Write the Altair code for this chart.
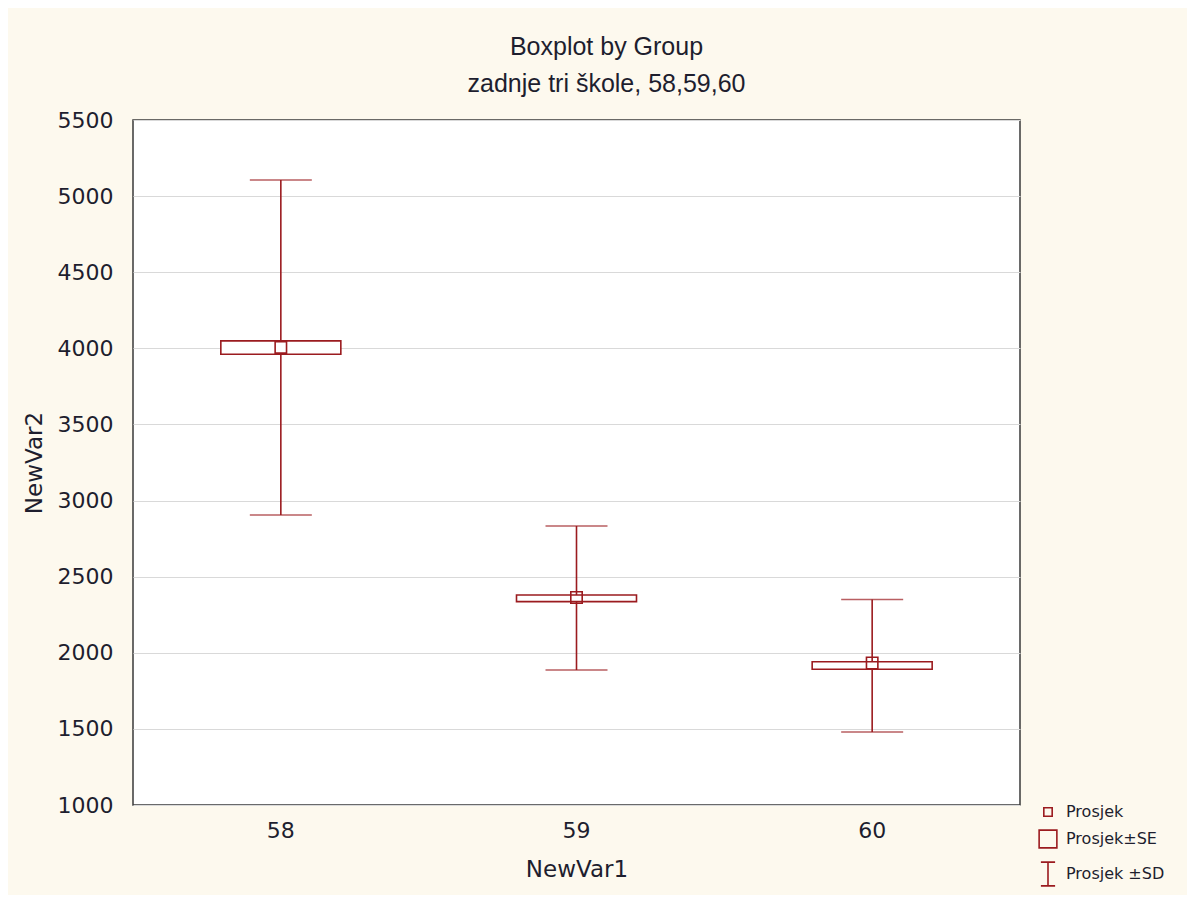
import altair as alt
import pandas as pd

groups = ["58", "59", "60"]
means = [4006, 2363, 1933]
se_low = [3961, 2336, 1892]
se_high = [4049, 2380, 1941]
sd_low = [2905, 1887, 1480]
sd_high = [5106, 2833, 2350]
legend_labels = ["Prosjek", "Prosjek±SE", "Prosjek ±SD"]
y_ticks = [1000, 1500, 2000, 2500, 3000, 3500, 4000, 4500, 5000, 5500]

df = pd.DataFrame({
    "group": groups, "mean": means, "se_low": se_low, "se_high": se_high,
    "sd_low": sd_low, "sd_high": sd_high,
})
leg_df = pd.DataFrame({"item": legend_labels})

RED = "#9b1b1f"
TXT = "#1e1e2e"
FONT = "DejaVu Sans"

x_enc = alt.X("group:N", sort=groups,
              scale=alt.Scale(paddingInner=0, paddingOuter=0),
              axis=alt.Axis(title="NewVar1", labelAngle=0, ticks=False, domain=False,
                            labelPadding=15, titlePadding=17, grid=False,
                            labelFont=FONT, labelFontSize=22, labelColor=TXT,
                            titleFont=FONT, titleFontSize=23, titleFontWeight="normal",
                            titleColor=TXT))
y_scale = alt.Scale(domain=[1000, 5500], nice=False, zero=False)
y_axis = alt.Axis(title="NewVar2", values=y_ticks, format="d", ticks=False, domain=False,
                  grid=True, gridColor="#d9d9d9", gridWidth=1.2, labelPadding=20,
                  titlePadding=11,
                  labelFont=FONT, labelFontSize=22, labelColor=TXT,
                  titleFont=FONT, titleFontSize=23, titleFontWeight="normal", titleColor=TXT)

base = alt.Chart(df)

whisker = base.mark_rule(color=RED, strokeWidth=1.6).encode(
    x=x_enc, y=alt.Y("sd_low:Q", scale=y_scale, axis=y_axis), y2="sd_high:Q")
cap_low = base.mark_tick(color=RED, size=62, thickness=1.6).encode(
    x=x_enc, y=alt.Y("sd_low:Q", scale=y_scale))
cap_high = base.mark_tick(color=RED, size=62, thickness=1.6).encode(
    x=x_enc, y=alt.Y("sd_high:Q", scale=y_scale))
box = base.mark_bar(fill="white", stroke=RED, strokeWidth=1.6, size=120).encode(
    x=x_enc, y=alt.Y("se_low:Q", scale=y_scale), y2="se_high:Q")
mean_pt = base.mark_point(shape="square", size=130, filled=False, color=RED,
                          strokeWidth=1.6, opacity=1).encode(
    x=x_enc, y=alt.Y("mean:Q", scale=y_scale))

leg = alt.Legend(title=None, orient="none", legendX=902, legendY=684,
                 labelFont=FONT, labelFontSize=16, labelColor=TXT,
                 symbolStrokeColor=RED, symbolStrokeWidth=1.6, symbolFillColor="transparent",
                 rowPadding=6, labelOffset=5)
legend_layer = alt.Chart(leg_df).mark_point(filled=False, color=RED, strokeWidth=1.6,
                                            clip=True, opacity=1).encode(
    x=alt.value(10),
    y=alt.datum(0),
    shape=alt.Shape("item:N", sort=legend_labels,
                    scale=alt.Scale(domain=legend_labels,
                                    range=["square", "square",
                                           "M-0.6,-1H0.6M0,-1V1M-0.6,1H0.6"]),
                    legend=leg),
    size=alt.Size("item:N", sort=legend_labels,
                  scale=alt.Scale(domain=legend_labels, range=[70, 560, 800]),
                  legend=leg),
)

chart = alt.layer(whisker, cap_low, cap_high, box, mean_pt, legend_layer).properties(
    width=887, height=685,
    background="#fdf9ee",
    padding={"left": 125, "top": 112, "right": 167, "bottom": 90},
    autosize=alt.AutoSizeParams(type="none"),
    title=alt.Title("Boxplot by Group", subtitle="zadnje tri škole, 58,59,60",
                    anchor="middle", dx=30, offset=12,
                    font="Liberation Sans", fontSize=25, fontWeight="normal", color=TXT,
                    subtitleFont="Liberation Sans", subtitleFontSize=25,
                    subtitleColor=TXT, subtitlePadding=12),
).configure_view(stroke="#3a3a3a", strokeWidth=1.5, fill="white")

chart.save("out.html", embed_options={"renderer": "svg", "actions": False})
